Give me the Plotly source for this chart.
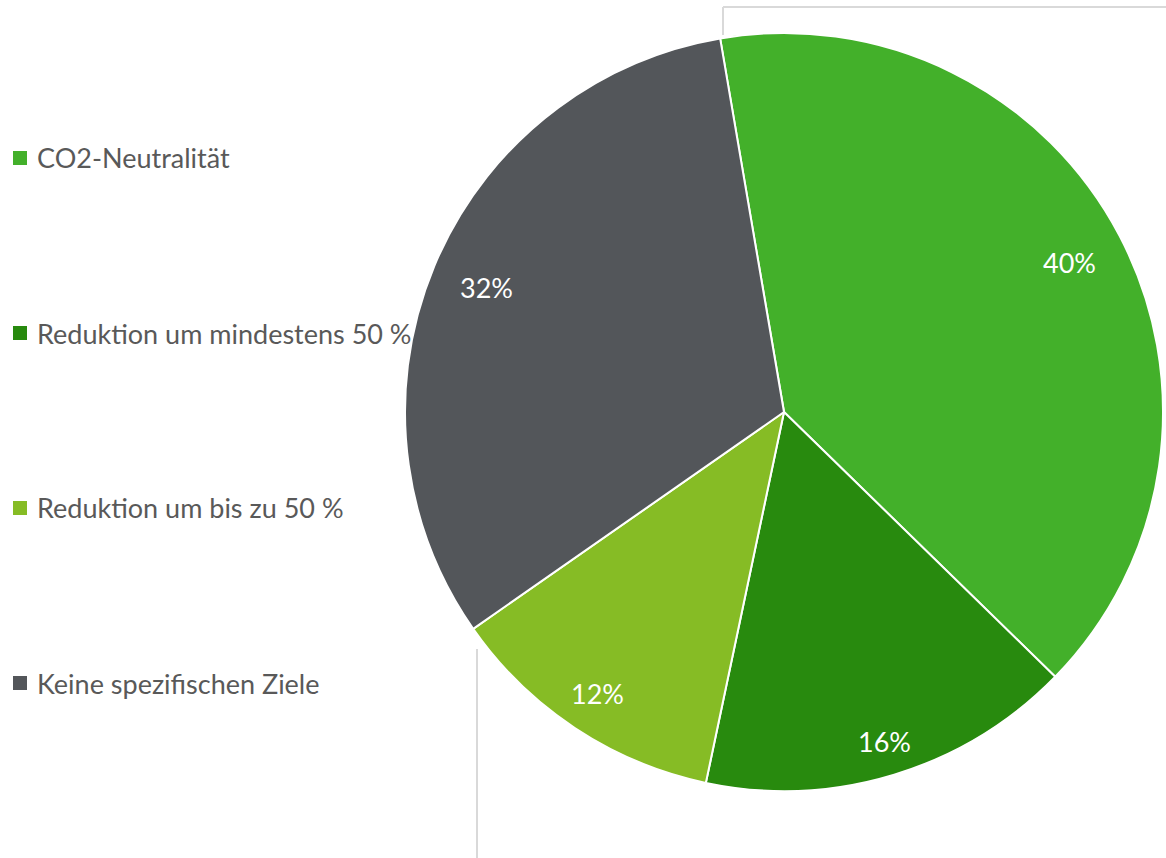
import math
import plotly.graph_objects as go

# Ziele zur CO2-Reduktion
categories = ["CO2-Neutralität", "Reduktion um mindestens 50 %",
              "Reduktion um bis zu 50 %", "Keine spezifischen Ziele"]
shares = [40, 16, 12, 32]
colors = ["#43B02A", "#288A0E", "#86BC25", "#53565A"]

W, H = 1166, 858
cx, cy, r = 784, 412, 379
rotation = -9.7
# radialer Abstand der Prozentangaben (Anteil des Radius)
label_radius = [0.85, 0.91, 0.89, 0.85]

fig = go.Figure(go.Pie(
    labels=categories,
    values=shares,
    sort=False,
    direction="clockwise",
    rotation=rotation,
    marker=dict(colors=colors, line=dict(color="white", width=2)),
    textinfo="none",
    showlegend=False,
    hoverinfo="label+percent",
    domain=dict(x=[(cx - r) / W, (cx + r) / W],
                y=[(H - cy - r) / H, (H - cy + r) / H]),
))

shapes = []
annotations = []

# Prozentangaben in den Segmenten
total = sum(shares)
start = rotation
for val, frac in zip(shares, label_radius):
    span = 360 * val / total
    mid = math.radians(start + span / 2)
    start += span
    d = frac * r
    px = cx + d * math.sin(mid)
    py = cy - d * math.cos(mid)
    annotations.append(dict(text=f"{val}%", xref="paper", yref="paper",
                            x=px / W, y=(H - py) / H,
                            xanchor="center", yanchor="middle", showarrow=False,
                            font=dict(family="Lato", size=27, color="white")))

# Legende links: Farbquadrat + Beschriftung
legend_y = [158, 333, 508, 683]
for name, col, yy in zip(categories, colors, legend_y):
    shapes.append(dict(type="rect", xref="paper", yref="paper",
                       x0=13 / W, x1=27 / W,
                       y0=(H - yy - 7) / H, y1=(H - yy + 7) / H,
                       fillcolor=col, line=dict(width=0)))
    annotations.append(dict(text=name, xref="paper", yref="paper",
                            x=35 / W, y=(H - yy) / H,
                            xanchor="left", yanchor="middle", showarrow=False,
                            font=dict(family="Lato", size=27, color="#595959")))

# Rahmenlinien des Diagrammbereichs
line_style = dict(color="#D9D9D9", width=2)
shapes += [
    dict(type="line", xref="paper", yref="paper", x0=723 / W, x1=1.0,
         y0=(H - 7) / H, y1=(H - 7) / H, line=line_style),
    dict(type="line", xref="paper", yref="paper", x0=723 / W, x1=723 / W,
         y0=(H - 7) / H, y1=(H - 35) / H, line=line_style),
    dict(type="line", xref="paper", yref="paper", x0=477 / W, x1=477 / W,
         y0=(H - 649) / H, y1=0, line=line_style),
]

fig.update_layout(
    width=W, height=H,
    margin=dict(l=0, r=0, t=0, b=0),
    paper_bgcolor="white", plot_bgcolor="white",
    shapes=shapes, annotations=annotations,
)

fig.write_html("out.html")
